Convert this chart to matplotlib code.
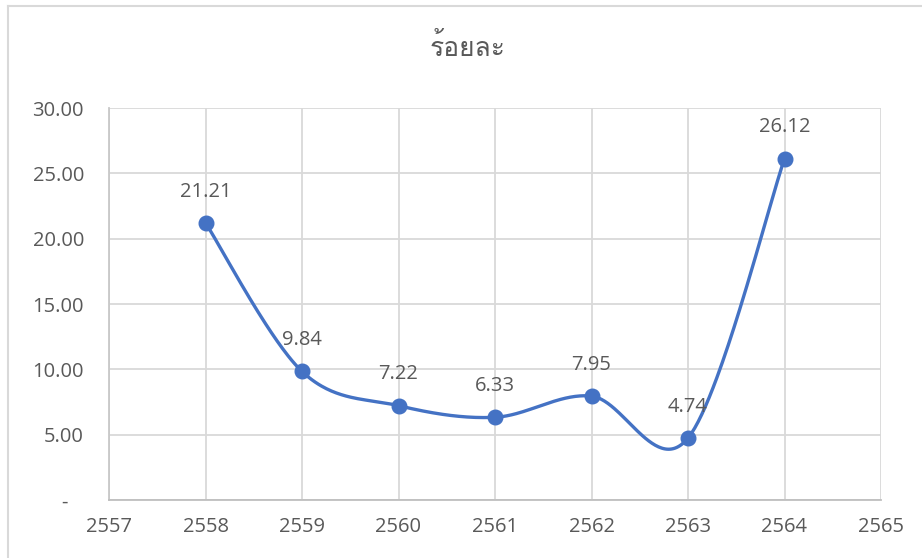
import numpy as np
import matplotlib
matplotlib.use("Agg")
import matplotlib.pyplot as plt
from matplotlib import font_manager
from matplotlib.ft2font import FT2Font
from matplotlib.lines import Line2D

years = [2558, 2559, 2560, 2561, 2562, 2563, 2564]
percent = [21.21, 9.84, 7.22, 6.33, 7.95, 4.74, 26.12]
x_ticks = [2557, 2558, 2559, 2560, 2561, 2562, 2563, 2564, 2565]
y_ticks = [0, 5, 10, 15, 20, 25, 30]
title = "ร้อยละ"


def find_family(ch):
    for f in font_manager.fontManager.ttflist:
        try:
            if ord(ch) in FT2Font(f.fname).get_charmap():
                return f.name
        except Exception:
            pass
    return None


thai_family = find_family("ร")
base = "Open Sans"
families = [base] + ([thai_family] if thai_family else []) + ["DejaVu Sans"]
plt.rcParams["font.family"] = families

text_color = "#595959"
grid_color = "#d9d9d9"
line_color = "#4472C4"
label_size = 14.5


def smooth_curve(xs, ys, n=60):
    # Catmull-Rom style cubic Bezier segments through every point
    xs = np.asarray(xs, float)
    ys = np.asarray(ys, float)
    px = np.concatenate([[xs[0]], xs, [xs[-1]]])
    py = np.concatenate([[ys[0]], ys, [ys[-1]]])
    out_x, out_y = [], []
    t = np.linspace(0, 1, n)
    for i in range(1, len(px) - 2):
        p0 = np.array([px[i], py[i]])
        p3 = np.array([px[i + 1], py[i + 1]])
        c1 = p0 + (np.array([px[i + 1], py[i + 1]]) - np.array([px[i - 1], py[i - 1]])) / 6
        c2 = p3 - (np.array([px[i + 2], py[i + 2]]) - np.array([px[i], py[i]])) / 6
        b = ((1 - t) ** 3)[:, None] * p0 + (3 * (1 - t) ** 2 * t)[:, None] * c1 \
            + (3 * (1 - t) * t ** 2)[:, None] * c2 + (t ** 3)[:, None] * p3
        out_x.extend(b[:, 0])
        out_y.extend(b[:, 1])
    return out_x, out_y


fig = plt.figure(figsize=(9.22, 5.58), dpi=100)
ax = fig.add_axes([109 / 922, 1 - 500 / 558, (881 - 109) / 922, (500 - 108) / 558])

sx, sy = smooth_curve(years, percent)
ax.plot(sx, sy, color=line_color, lw=2.4, solid_capstyle="round", zorder=3)
ax.plot(years, percent, "o", color=line_color, ms=10.5, zorder=4)

for xv, yv in zip(years, percent):
    ax.annotate(f"{yv:.2f}", (xv, yv), xytext=(0, 22.5), textcoords="offset points",
                ha="center", va="center", fontsize=label_size, color=text_color)

ax.set_xlim(2557, 2565)
ax.set_ylim(0, 30)
ax.set_xticks(x_ticks)
ax.set_xticklabels([str(v) for v in x_ticks])
ax.set_yticks(y_ticks)
ax.set_yticklabels(["-   " if v == 0 else f"{v:.2f}" for v in y_ticks])
ax.tick_params(length=0, colors=text_color, labelsize=label_size)
ax.tick_params(axis="x", pad=12)
ax.tick_params(axis="y", pad=18)
ax.grid(True, color=grid_color, lw=1.3)
ax.set_axisbelow(True)
for side in ["top", "right"]:
    ax.spines[side].set_visible(False)
ax.spines["left"].set_color("#c8c8c8")
ax.spines["bottom"].set_color("#bfbfbf")
ax.spines["left"].set_linewidth(1.3)
ax.spines["bottom"].set_linewidth(1.3)

fig.text(468 / 922, 1 - 48 / 558, title, ha="center", va="center",
         fontsize=19, color=text_color)

# chart area frame (left and top edges)
fig.add_artist(Line2D([8 / 922, 8 / 922], [0, 1 - 5.5 / 558], transform=fig.transFigure,
                      color="#d9d9d9", lw=1.5))
fig.add_artist(Line2D([8 / 922, 1], [1 - 5.5 / 558, 1 - 5.5 / 558], transform=fig.transFigure,
                      color="#d9d9d9", lw=1.5))

fig.savefig("out.png", dpi=100)
